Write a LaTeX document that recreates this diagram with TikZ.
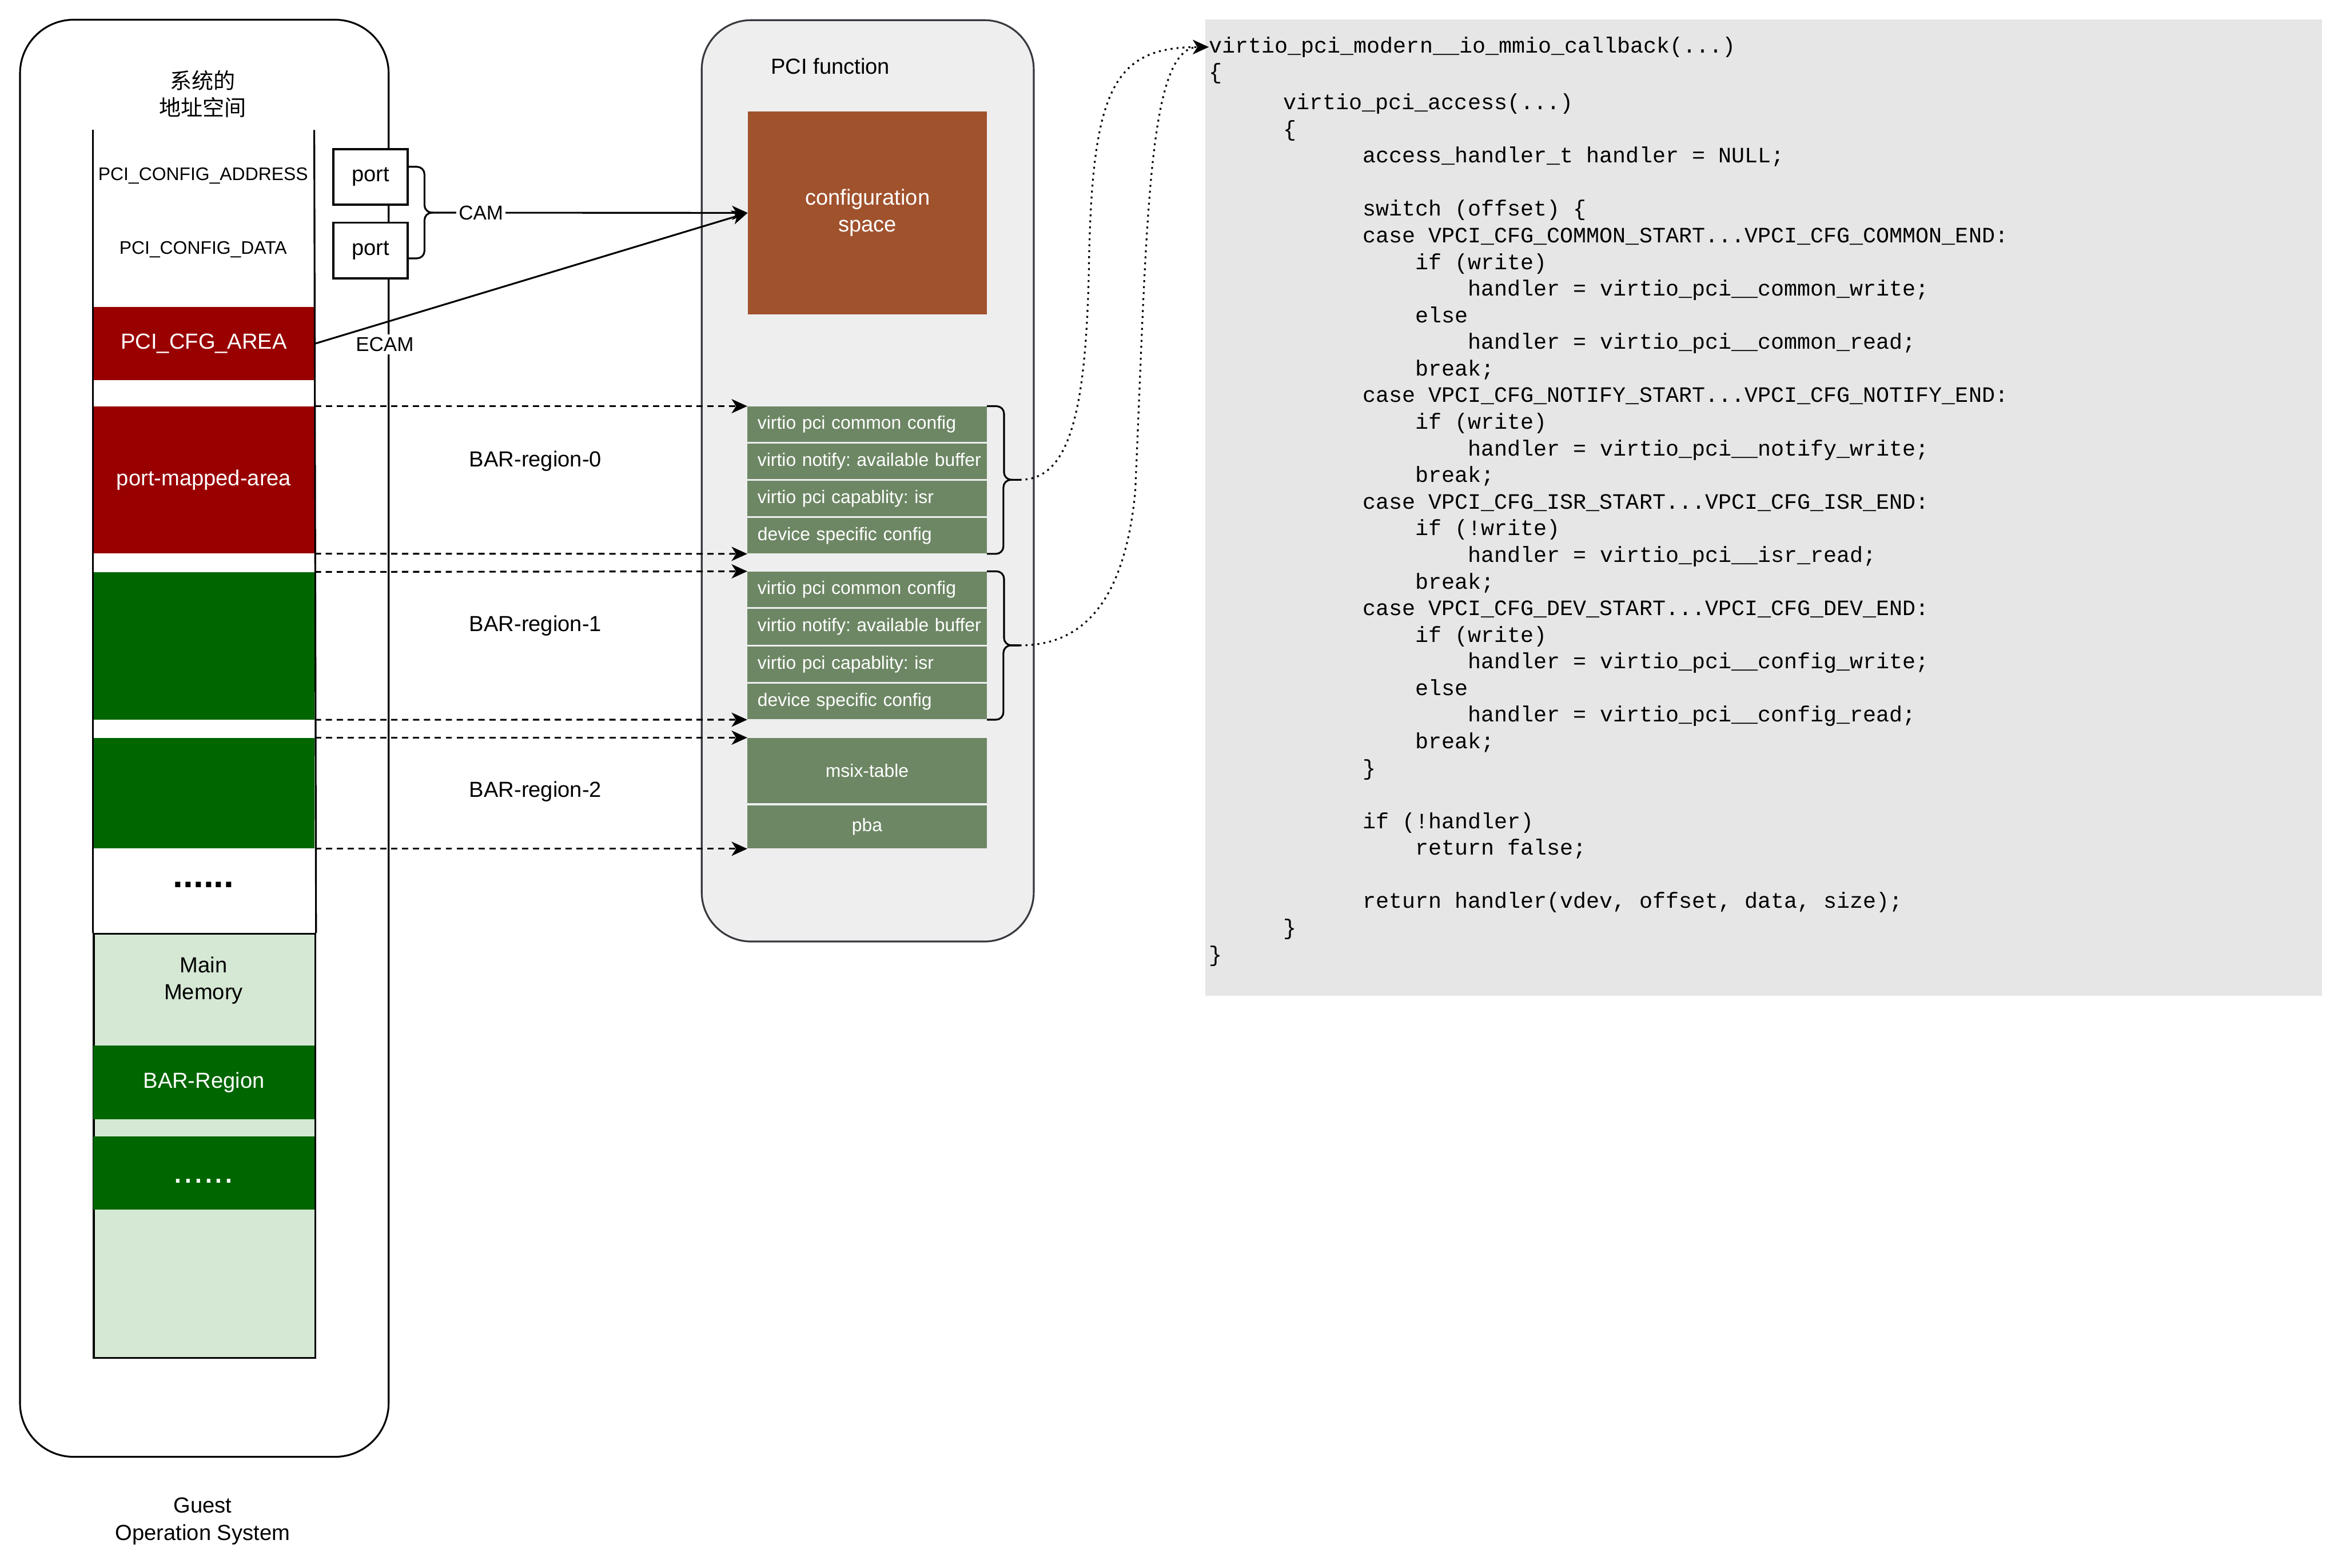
\documentclass[tikz,border=0pt]{standalone}
\usepackage{fontspec}
\setmainfont{Liberation Sans}
\setmonofont{Liberation Mono}
\newfontfamily\cjkfont{Noto Sans CJK SC}
\usetikzlibrary{arrows.meta}
\frenchspacing

\definecolor{cfgred}{HTML}{990000}
\definecolor{bargreen}{HTML}{006600}
\definecolor{memgreen}{HTML}{D5E8D4}
\definecolor{capgreen}{HTML}{6D8764}
\definecolor{cfgbrown}{HTML}{A0522D}
\definecolor{fnfill}{HTML}{EEEEEE}
\definecolor{fnline}{HTML}{36393D}
\definecolor{codefill}{HTML}{E6E6E6}

\newcommand{\figfont}{\fontsize{14.6}{18}\selectfont}
\newcommand{\figsmall}{\fontsize{12.2}{14.6}\selectfont}
\newcommand{\figedge}{\fontsize{13.4}{16}\selectfont}
\newcommand{\tdots}{...}

\begin{document}
\begin{tikzpicture}[x=1pt,y=-1pt,
  >={Stealth[length=10.5pt,width=9.5pt,inset=3pt]},
  every node/.style={inner sep=0pt,font=\figfont},
  area/.style={anchor=north west,minimum width=148.2pt,text=white},
  portbox/.style={anchor=north west,draw,fill=white,line width=1.4pt,minimum width=49.7pt,minimum height=37.2pt},
  caprow/.style={anchor=north west,fill=capgreen,text=white,minimum height=23.8pt,
    text width=160.1pt,align=left,font=\figsmall},
  capblock/.style={anchor=north west,fill=capgreen,text=white,minimum width=160.1pt,font=\figsmall},
  brace/.style={line width=1.2pt,rounded corners=5pt},
  barmap/.style={->,line width=1.2pt,dash pattern=on 4.2pt off 3.1pt},
  callflow/.style={->,line width=1.2pt,dash pattern=on 1.3pt off 2.7pt},
  codeline/.style={anchor=base west,font=\ttfamily\fontsize{14.7}{17.85}\selectfont}]
  \useasboundingbox (0,0) rectangle (1568,1050);

  % guest operating system
  \node[draw,line width=1.2pt,rounded corners=36pt,minimum width=246.8pt,minimum height=962.4pt,anchor=north west] (guest) at (12.8,12.6) {};
  \node[align=center] (guestlabel) at (135.7,1018.7) {Guest\\Operation System};
  \node[align=center,font=\cjkfont\figfont] (addrspace) at (135.7,63) {系统的\\地址空间};

  % address space column
  \node[area,fill=memgreen,draw,line width=1.2pt,minimum height=283.8pt] (mainmem) at (62.2,624.8) {};
  \node[align=center] (memlabel) at (136.3,656.5) {Main\\Memory};
  \node[font=\figsmall] (cfgaddr) at (136,117.9) {PCI\_CONFIG\_ADDRESS};
  \node[font=\figsmall] (cfgdata) at (136,167.2) {PCI\_CONFIG\_DATA};
  \node[area,fill=cfgred,minimum height=49.1pt] (cfgarea) at (62.2,205.4) {PCI\_CFG\_AREA};
  \node[area,fill=cfgred,minimum height=98.4pt] (region0) at (62.2,272) {port-mapped-area};
  \node[area,fill=bargreen,minimum height=98.6pt] (region1) at (62.2,383) {};
  \node[area,fill=bargreen,minimum height=74pt] (region2) at (62.2,494) {};
  \node[font=\bfseries\fontsize{24.4}{24}\selectfont] (gapdots) at (136.3,592.5) {......};
  \node[area,fill=bargreen,minimum height=49.3pt] (barregion) at (62.2,700) {BAR-Region};
  \node[area,fill=bargreen,minimum height=49pt] (moremem) at (62.2,760.7) {};
  \node[text=white,font=\fontsize{24.4}{24}\selectfont] (moredots) at (136.3,791) {......};
  \draw[line width=1.2pt] (62.2,87) -- (mainmem.north west);
  \draw[line width=1.2pt] (210.4,87) -- (mainmem.north east);

  % ports
  \node[portbox] (port1) at (222.5,99.1) {port};
  \node[portbox] (port2) at (222.5,148.4) {port};
  \coordinate (camtip) at (290,142.4);
  \draw[brace] (272.2,111.7) -- (284.2,111.7) |- (camtip);
  \draw[brace] (camtip) -- (284.2,142.4) |- (272.2,173);

  % PCI function
  \node[draw=fnline,fill=fnfill,line width=1.2pt,rounded corners=33pt,minimum width=222.3pt,minimum height=617pt,anchor=north west] (pcifn) at (469.2,12.9) {};
  \node (pcifnlabel) at (555.9,44.2) {PCI function};
  \node[anchor=north west,fill=cfgbrown,minimum width=160pt,minimum height=135.7pt,text=white,align=center] (config) at (500.6,74.5) {configuration\\space};
  \foreach \txt [count=\i] in {virtio pci common config, virtio notify: available buffer, virtio pci capablity: isr, device specific config}{
    \node[caprow] (cap0\i) at (500.3,272+24.9*\i-24.9) {\hspace*{6.7pt}\txt};
    \node[caprow] (cap1\i) at (500.3,382.6+25.05*\i-25.05) {\hspace*{6.7pt}\txt};
  }
  \node[capblock,minimum height=43.8pt] (msix) at (500.3,494) {msix-table};
  \node[capblock,minimum height=29pt] (pba) at (500.3,539) {pba};
  \coordinate (cap0tip) at (682.6,321.3);
  \coordinate (cap1tip) at (682.6,432.2);
  \draw[brace] (cap01.north east) -- ++(11.4,0) |- (cap0tip);
  \draw[brace] (cap0tip) -- ++(-10.8,0) |- (cap04.south east);
  \draw[brace] (cap11.north east) -- ++(11.4,0) |- (cap1tip);
  \draw[brace] (cap1tip) -- ++(-10.8,0) |- (cap14.south east);

  % CAM / ECAM
  \draw[->,line width=1.2pt] (camtip) -- node[pos=0.152,fill=white,inner xsep=1.5pt,inner ysep=1pt,font=\figedge] (cam) {CAM} (config.west);
  \draw[->,line width=1.2pt] (cfgarea.east) -- (config.west);
  \node[fill=white,inner xsep=1pt,inner ysep=2pt,font=\figedge] (ecam) at (257.6,230.5) {ECAM};

  % BAR mappings
  \draw[barmap] (region0.north east) -- (cap01.north west);
  \draw[barmap] (region0.south east) -- (cap04.south west);
  \draw[barmap] (region1.north east) -- (cap11.north west);
  \draw[barmap] (region1.south east) -- (cap14.south west);
  \draw[barmap] (region2.north east) -- (msix.north west);
  \draw[barmap] (region2.south east) -- (pba.south west);
  \node (bar0label) at (358.5,308.6) {BAR-region-0};
  \node (bar1label) at (358.5,419.2) {BAR-region-1};
  \node (bar2label) at (358.5,530) {BAR-region-2};

  % callback code
  \node[anchor=north west,fill=codefill,minimum width=747.7pt,minimum height=653.5pt] (codebox) at (806.8,13) {};
  \foreach \lvl/\txt [count=\i] in {
    0/virtio\_pci\_modern\_\_io\_mmio\_callback(\tdots),
    0/\{,
    49.8/virtio\_pci\_access(\tdots),
    49.8/\{,
    102.9/access\_handler\_t handler = NULL;,
    102.9/{},
    102.9/switch (offset) \{,
    102.9/case VPCI\_CFG\_COMMON\_START\tdots VPCI\_CFG\_COMMON\_END:,
    138.2/if (write),
    173.5/handler = virtio\_pci\_\_common\_write;,
    138.2/else,
    173.5/handler = virtio\_pci\_\_common\_read;,
    138.2/break;,
    102.9/case VPCI\_CFG\_NOTIFY\_START\tdots VPCI\_CFG\_NOTIFY\_END:,
    138.2/if (write),
    173.5/handler = virtio\_pci\_\_notify\_write;,
    138.2/break;,
    102.9/case VPCI\_CFG\_ISR\_START\tdots VPCI\_CFG\_ISR\_END:,
    138.2/if (!write),
    173.5/handler = virtio\_pci\_\_isr\_read;,
    138.2/break;,
    102.9/case VPCI\_CFG\_DEV\_START\tdots VPCI\_CFG\_DEV\_END:,
    138.2/if (write),
    173.5/handler = virtio\_pci\_\_config\_write;,
    138.2/else,
    173.5/handler = virtio\_pci\_\_config\_read;,
    138.2/break;,
    102.9/\},
    102.9/{},
    102.9/if (!handler),
    138.2/return false;,
    102.9/{},
    {102.9/return handler(vdev, offset, data, size);},
    49.8/\},
    0/\}}
    \node[codeline] (code\i) at ({809.2+\lvl},{35.3+17.83*\i-17.83+2.4*(\i>2)}) {\txt};

  % calls into the callback
  \draw[callflow] (cap0tip) .. controls (715,321.3) and (727,280) .. (729,180)
    .. controls (731,60) and (745,31.5) .. (code1.west);
  \draw[callflow] (cap1tip) .. controls (720,432.2) and (752,410) .. (760,330)
    .. controls (768,150) and (768,31.5) .. (code1.west);
\end{tikzpicture}
\end{document}
